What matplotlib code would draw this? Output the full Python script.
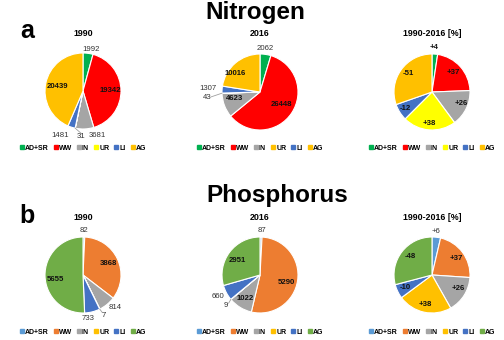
import numpy as np
import matplotlib.pyplot as plt
from matplotlib.lines import Line2D

plt.rcParams['font.family'] = ['Liberation Sans', 'DejaVu Sans']

sources = ["AD+SR", "WW", "IN", "UR", "LI", "AG"]

# nitrogen loads
n_1990 = [1992, 19342, 3681, 31, 1481, 20439]
n_2016 = [2062, 26448, 4623, 43, 1307, 10016]
n_change = [4, 37, 26, 38, -12, -51]

# phosphorus loads
p_1990 = [82, 3868, 814, 7, 733, 5655]
p_2016 = [87, 5290, 1022, 9, 660, 2951]
p_change = [6, 37, 26, 38, -10, -48]

n_colors = ["#00B050", "#FF0000", "#A5A5A5", "#FFFF00", "#4472C4", "#FFC000"]
n_colors_2016 = ["#00B050", "#FF0000", "#A5A5A5", "#FFC000", "#4472C4", "#FFC000"]
p_colors = ["#5B9BD5", "#ED7D31", "#A5A5A5", "#FFC000", "#4472C4", "#70AD47"]

# label placement: (radius, angle tweak in deg, inside?, leader line?)
lab_n1990 = [(1.12, 3, 0, 0), (0.72, 0, 1, 0), (1.23, -15, 0, 0), (1.21, -9, 0, 1), (1.32, 9, 0, 0), (0.68, -2, 1, 0)]
lab_n2016 = [(1.16, -2, 0, 0), (0.66, -4, 1, 0), (0.68, 7, 1, 0), (1.40, -4, 0, 1), (1.37, 0, 0, 0), (0.81, -13, 1, 0)]
lab_nchg = [(1.16, -2, 1, 0), (0.76, 0, 1, 0), (0.82, -5, 1, 0), (0.82, 0, 1, 0), (0.83, 1, 1, 0), (0.79, 2, 1, 0)]
lab_p1990 = [(1.16, 0, 0, 0), (0.72, 1, 1, 0), (1.2, -5, 0, 0), (1.21, -1, 0, 1), (1.15, 7, 0, 0), (0.74, -7, 1, 0)]
lab_p2016 = [(1.16, 1, 0, 0), (0.71, 7, 1, 0), (0.74, 0, 1, 0), (1.21, -2, 0, 1), (1.24, 1, 0, 0), (0.72, -4, 1, 0)]
lab_pchg = [(1.16, -1, 0, 0), (0.78, 3, 1, 0), (0.78, -4, 1, 0), (0.81, 1, 1, 0), (0.79, 0, 1, 0), (0.76, 3, 1, 0)]

W, H = 504, 340
fig = plt.figure(figsize=(W / 100, H / 100), dpi=100)


def draw_pie(cx, cy, vals, colors, labels, title, pct=False):
    R = 38
    ax = fig.add_axes([(cx - R) / W, 1 - (cy + R) / H, 2 * R / W, 2 * R / H])
    sizes = np.abs(vals)
    ax.pie(sizes, colors=colors, startangle=90, counterclock=False,
           wedgeprops=dict(edgecolor='white', linewidth=0.8))
    ax.set_xlim(-1, 1)
    ax.set_ylim(-1, 1)
    ax.axis('off')
    frac = np.cumsum(sizes) / sizes.sum()
    start = np.concatenate([[0], frac[:-1]])
    mids = (start + frac) / 2 * 360
    for v, m, (r, d, inside, lead) in zip(vals, mids, labels):
        th = np.radians(m + d)
        txt = ("%+d" % v) if pct else str(v)
        ax.text(r * np.sin(th), r * np.cos(th), txt, ha='center', va='center',
                fontsize=5.6, fontweight='bold' if inside else 'normal',
                color='#111111' if inside else '#333333')
        if lead:
            t0 = np.radians(m)
            ax.plot([np.sin(t0), (r - 0.1) * np.sin(th)],
                    [np.cos(t0), (r - 0.1) * np.cos(th)],
                    color='#a0a0a0', lw=0.6, clip_on=False)
    fig.text(cx / W, 1 - 34 / H if cy < 170 else 1 - 218 / H, title,
             ha='center', va='center', fontsize=6.4, fontweight='bold')
    handles = [Line2D([], [], ls='none', marker='s', markersize=2.2,
                      markerfacecolor=c, markeredgecolor=c) for c in colors]
    ly = 148 if cy < 170 else 332
    fig.legend(handles, sources, loc='center', ncol=6,
               bbox_to_anchor=(cx / W, 1 - ly / H), frameon=False,
               prop=dict(size=5.0, weight='bold'), handlelength=0.5,
               handletextpad=0.2, columnspacing=0.75, borderpad=0)


draw_pie(83, 91, n_1990, n_colors, lab_n1990, "1990")
draw_pie(260, 92, n_2016, n_colors_2016, lab_n2016, "2016")
draw_pie(432, 92, n_change, n_colors, lab_nchg, "1990-2016 [%]", pct=True)
draw_pie(83, 275, p_1990, p_colors, lab_p1990, "1990")
draw_pie(260, 275, p_2016, p_colors, lab_p2016, "2016")
draw_pie(432, 275, p_change, p_colors, lab_pchg, "1990-2016 [%]", pct=True)

fig.text(255 / W, 1 - 13 / H, "Nitrogen", ha='center', va='center',
         fontsize=17.5, fontweight='bold')
fig.text(277 / W, 1 - 196 / H, "Phosphorus", ha='center', va='center',
         fontsize=17.5, fontweight='bold')
fig.text(27 / W, 1 - 31 / H, "a", ha='center', va='center',
         fontsize=18, fontweight='bold')
fig.text(27 / W, 1 - 216 / H, "b", ha='center', va='center',
         fontsize=18, fontweight='bold')

fig.savefig("out.png", dpi=100)
